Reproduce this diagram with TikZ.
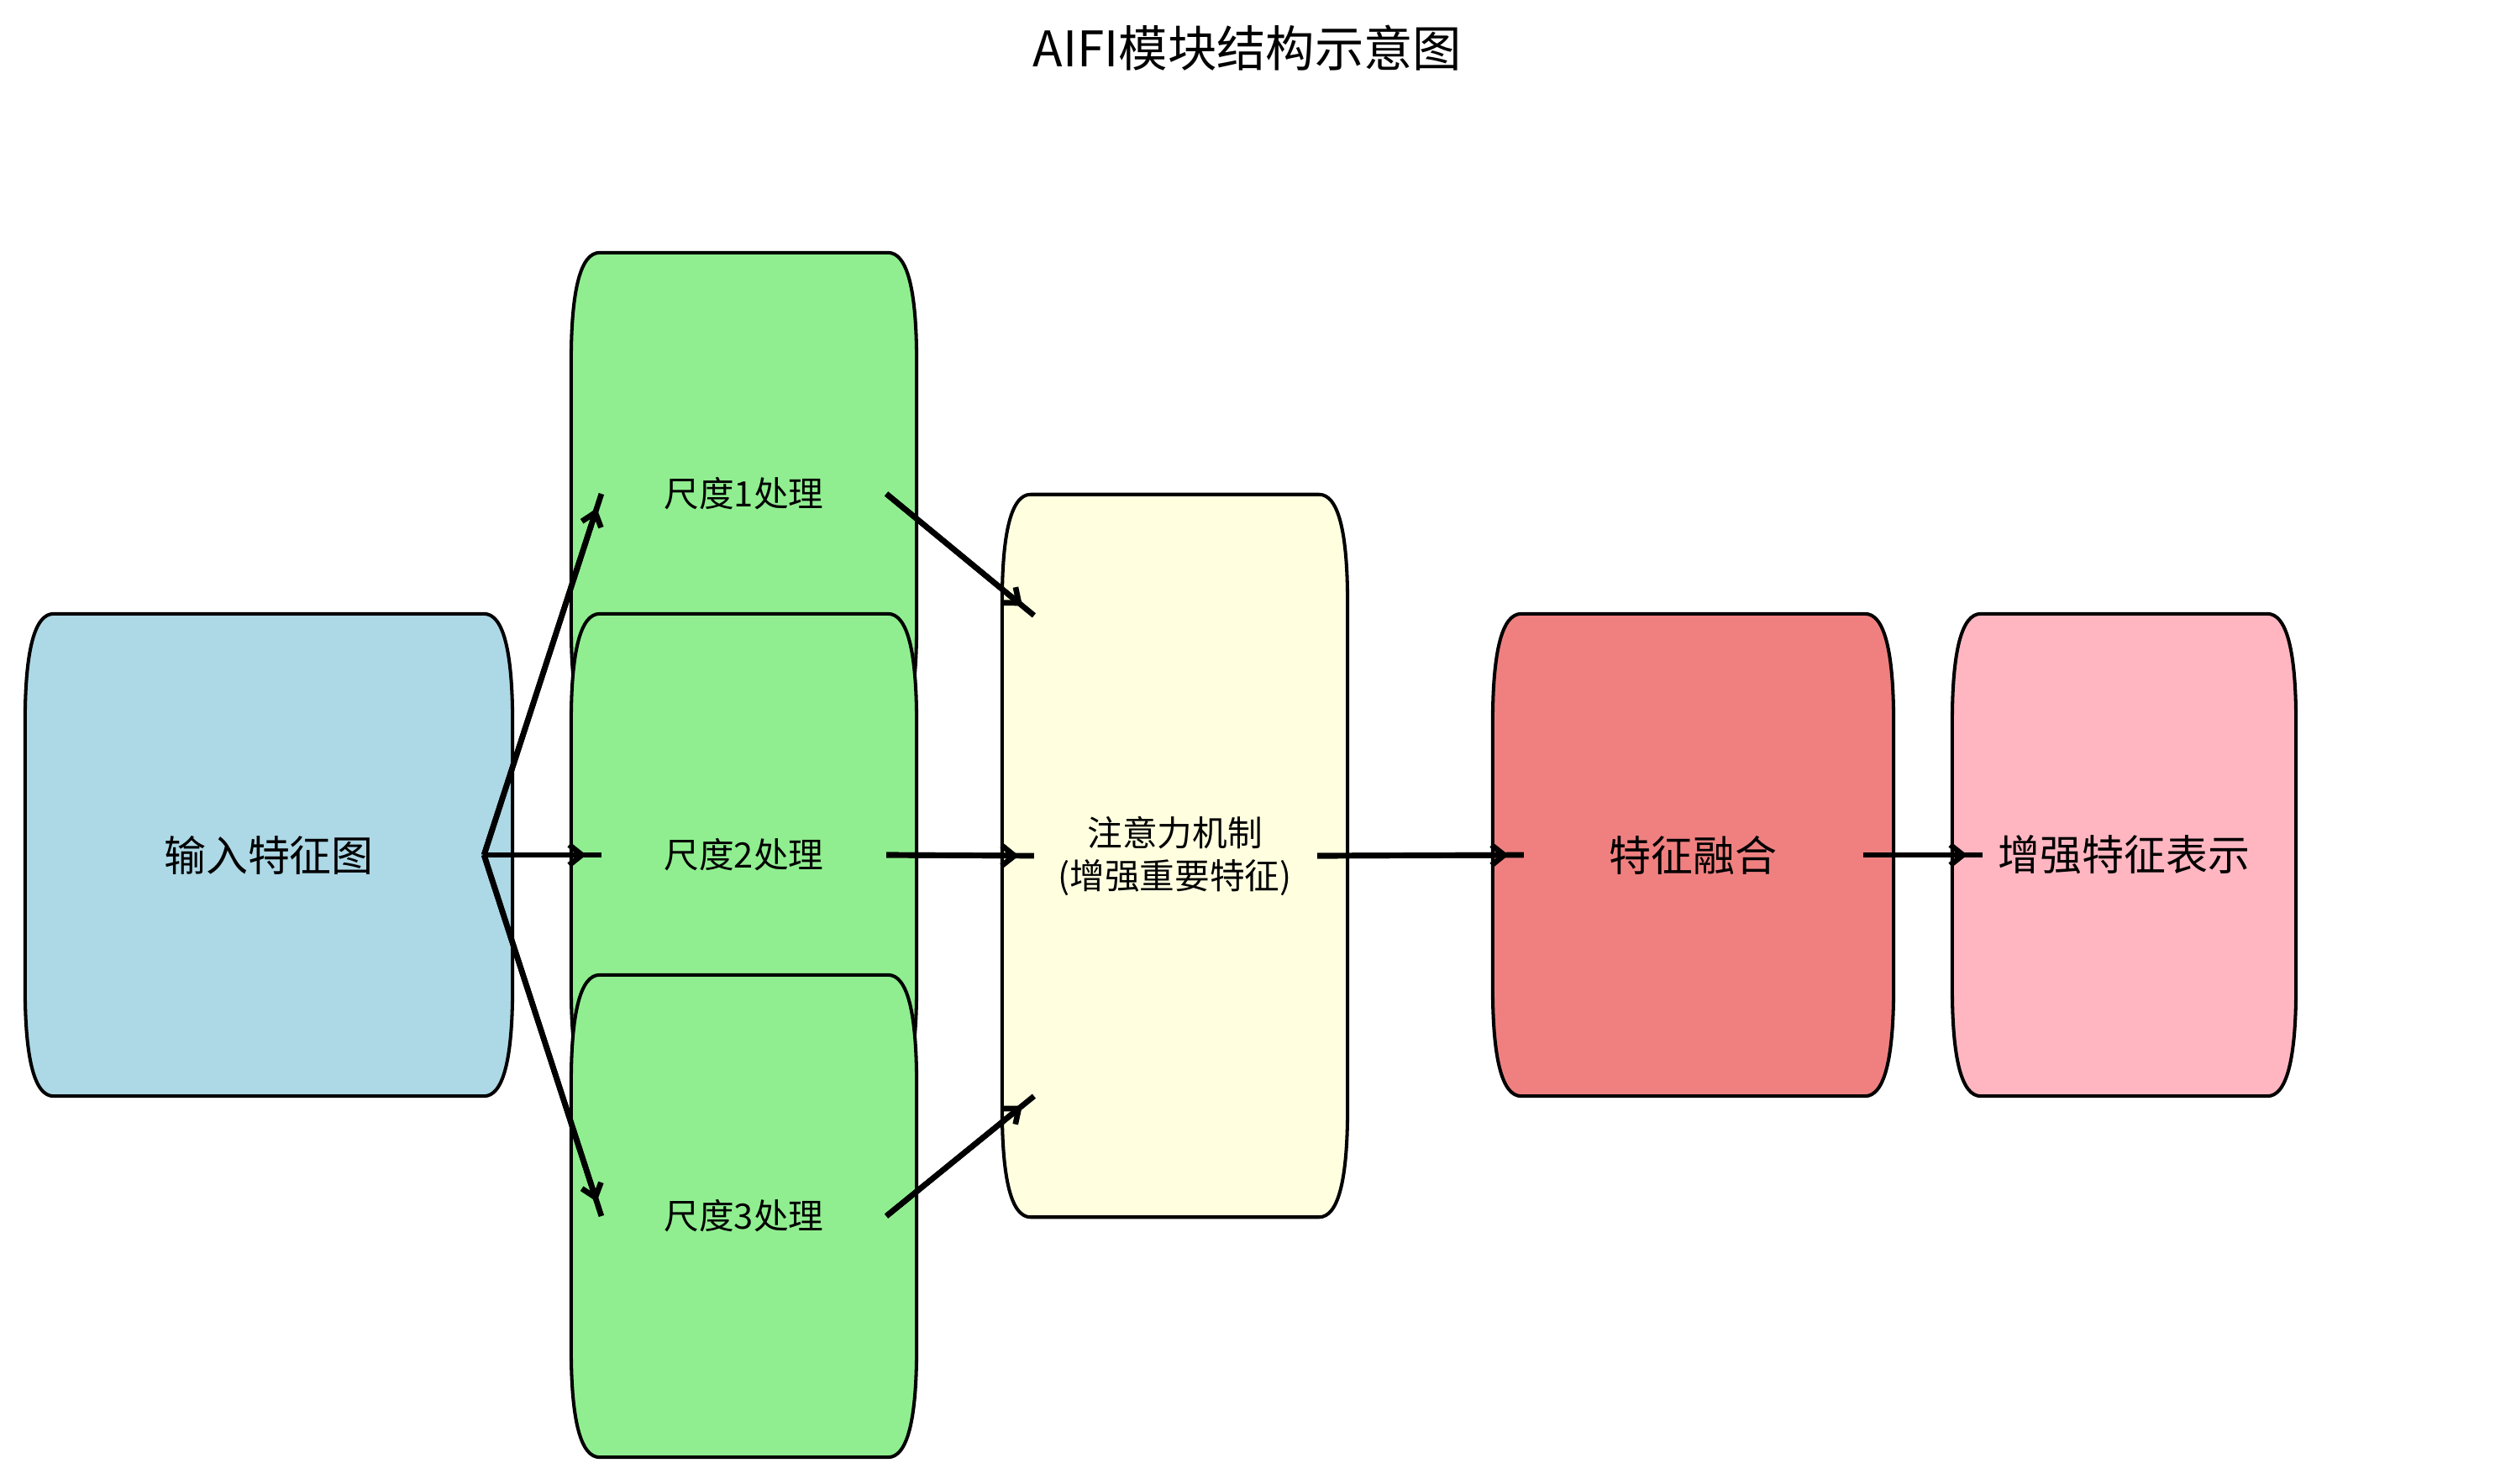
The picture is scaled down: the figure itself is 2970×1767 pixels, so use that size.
\documentclass[tikz,border=0pt]{standalone}
\usepackage{fontspec}
\setmainfont{Noto Sans CJK SC}
\usetikzlibrary{arrows.meta,backgrounds}
\definecolor{cin}{HTML}{ADD8E6}
\definecolor{cscale}{HTML}{90EE90}
\definecolor{catt}{HTML}{FFFFE0}
\definecolor{cfuse}{HTML}{F08080}
\definecolor{cout}{HTML}{FFB6C1}
% rounded box with elliptical corners drawn behind node #1
\newcommand\softbox[2]{%
\begin{pgfonlayer}{background}
\filldraw[fill=#2, draw=black, line width=1.15pt, line join=round]
 ([xshift=0.34cm]#1.north west) -- ([xshift=-0.34cm]#1.north east)
 .. controls ([xshift=-0.113cm]#1.north east) and ([yshift=-0.433cm]#1.north east) .. ([yshift=-1.3cm]#1.north east)
 -- ([yshift=1.3cm]#1.south east)
 .. controls ([yshift=0.433cm]#1.south east) and ([xshift=-0.113cm]#1.south east) .. ([xshift=-0.34cm]#1.south east)
 -- ([xshift=0.34cm]#1.south west)
 .. controls ([xshift=0.113cm]#1.south west) and ([yshift=0.433cm]#1.south west) .. ([yshift=1.3cm]#1.south west)
 -- ([yshift=-1.3cm]#1.north west)
 .. controls ([yshift=-0.433cm]#1.north west) and ([xshift=0.113cm]#1.north west) .. cycle;
\end{pgfonlayer}}
\newcommand\conn[2]{%
\draw[arrline] #1 -- #2;
\draw[arrline, arrhead] #1 -- #2;}
\begin{document}
\begin{tikzpicture}[x=0.01cm,y=-0.01cm,
  boxnode/.style={minimum height=5.74cm, inner sep=0pt, outer sep=0pt, align=center},
  bigtext/.style={font=\fontsize{14.2}{17}\selectfont},
  smalltext/.style={font=\fontsize{11.85}{14.5}\selectfont},
  arrline/.style={line width=1.9pt},
  arrhead/.style={-{Straight Barb[length=0.15cm, width=0.24cm]}, shorten >=0.18cm}]
\useasboundingbox (0,0) rectangle (2970,1767);

\node[font=\fontsize{16.6}{20}\selectfont] (title) at (1485,57) {AIFI模块结构示意图};

\node[boxnode, bigtext, minimum width=5.8cm] (in) at (320,1018) {输入特征图};
\node[boxnode, smalltext, minimum width=4.11cm] (s1) at (885.5,588) {尺度1处理};
\node[boxnode, smalltext, minimum width=4.11cm] (s2) at (885.5,1018) {尺度2处理};
\node[boxnode, smalltext, minimum width=4.11cm] (s3) at (885.5,1448) {尺度3处理};
\node[boxnode, smalltext, minimum width=4.11cm, minimum height=8.6cm] (att) at (1398.5,1019) {注意力机制\\(增强重要特征)};
\node[boxnode, bigtext, minimum width=4.77cm] (fuse) at (2015.5,1018) {特征融合};
\node[boxnode, bigtext, minimum width=4.09cm] (out) at (2528.5,1018) {增强特征表示};

\softbox{in}{cin}
\softbox{s1}{cscale}
\softbox{s2}{cscale}
\softbox{s3}{cscale}
\softbox{att}{catt}
\softbox{fuse}{cfuse}
\softbox{out}{cout}

\conn{([xshift=-0.34cm]in.east)}{([xshift=0.36cm]s1.west)}
\conn{([xshift=-0.34cm]in.east)}{([xshift=0.36cm]s2.west)}
\conn{([xshift=-0.34cm]in.east)}{([xshift=0.36cm]s3.west)}
\conn{([xshift=-0.36cm]s1.east)}{([xshift=0.38cm,yshift=2.86cm]att.west)}
\conn{([xshift=-0.36cm]s2.east)}{([xshift=0.38cm]att.west)}
\conn{([xshift=-0.36cm]s3.east)}{([xshift=0.38cm,yshift=-2.86cm]att.west)}
\conn{([xshift=-0.36cm]att.east)}{([xshift=0.37cm]fuse.west)}
\conn{([xshift=-0.36cm]fuse.east)}{([xshift=0.36cm]out.west)}
\end{tikzpicture}
\end{document}
